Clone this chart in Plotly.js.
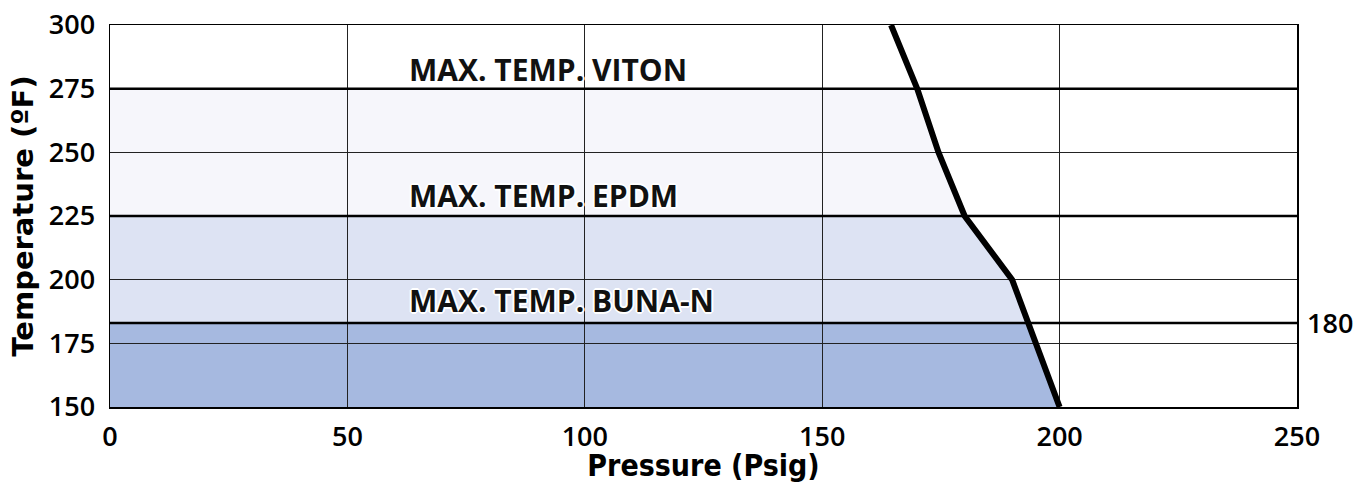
<!DOCTYPE html>
<html>
<head>
<meta charset="utf-8">
<script src="https://cdn.plot.ly/plotly-3.0.1.min.js"></script>
<style>html,body{margin:0;padding:0;background:#fff}#chart{width:1361px;height:483px}</style>
</head>
<body>
<div id="chart"></div>
<script>
// Pressure / temperature limit curve
const curvePressure = [164.5, 170, 174.5, 180, 190, 200];
const curveTemp     = [300,   275, 250,   225, 200, 150];

// Max-temperature limits for seal materials
const materials   = ["VITON", "EPDM", "BUNA-N"];
const maxTemps    = [275, 225, 183];
const labelTemps  = [282.5, 233, 192];
const labelX      = 62.5;
const limitLabel  = "180";

const xTicks = [0, 50, 100, 150, 200, 250];
const yTicks = [150, 175, 200, 225, 250, 275, 300];

const bandColors = ["#f6f6fb", "#dde3f3", "#a6b9e0"];

function curveXAt(t) {
  for (let i = 0; i < curveTemp.length - 1; i++) {
    const t0 = curveTemp[i], t1 = curveTemp[i + 1];
    if (t <= t0 && t >= t1) {
      const f = (t0 - t) / (t0 - t1);
      return curvePressure[i] + f * (curvePressure[i + 1] - curvePressure[i]);
    }
  }
  return curvePressure[curvePressure.length - 1];
}

const shapes = [];
// Band fills (drawn under the gridlines)
const bottom = yTicks[0];
for (let b = 0; b < maxTemps.length; b++) {
  const top = maxTemps[b];
  const low = b + 1 < maxTemps.length ? maxTemps[b + 1] : bottom;
  const pts = [[0, top], [curveXAt(top), top]];
  for (let i = 0; i < curveTemp.length; i++) {
    if (curveTemp[i] < top && curveTemp[i] > low) pts.push([curvePressure[i], curveTemp[i]]);
  }
  pts.push([curveXAt(low), low], [0, low]);
  const path = pts.map((p, k) => (k ? 'L' : 'M') + p[0] + ',' + p[1]).join(' ') + ' Z';
  shapes.push({type: 'path', xref: 'x', yref: 'y', path: path, fillcolor: bandColors[b],
    line: {width: 0}, layer: 'below'});
}
// Material limit lines
maxTemps.forEach(t => shapes.push({type: 'line', xref: 'x', yref: 'y', x0: xTicks[0], x1: xTicks[xTicks.length-1],
  y0: t, y1: t, line: {color: '#000', width: 2.5}, layer: 'between'}));

const traces = [{x: curvePressure, y: curveTemp, type: 'scatter', mode: 'lines',
  line: {color: '#000', width: 6}, showlegend: false, hoverinfo: 'skip'}];

const labelFont = {family: 'Open Sans', size: 30, weight: 700, color: '#111',
  shadow: '1px 1px 0 #fff, -1px -1px 0 #fff, 1px -1px 0 #fff, -1px 1px 0 #fff, 2px 0 0 #fff, -2px 0 0 #fff, 0 2px 0 #fff, 0 -2px 0 #fff'};

const tickFont = {family: 'Open Sans', size: 27, weight: 600, color: '#000'};

const annotations = materials.map((m, i) => ({
  x: labelX, y: labelTemps[i], xref: 'x', yref: 'y', xanchor: 'left', yanchor: 'middle',
  text: 'MAX. TEMP. ' + m, showarrow: false, font: labelFont
}));
annotations.push({x: 1, y: maxTemps[2], xref: 'paper', yref: 'y', xanchor: 'left', yanchor: 'middle',
  xshift: 8, text: limitLabel, showarrow: false, font: tickFont});

const layout = {
  width: 1361, height: 483,
  margin: {l: 110, r: 64, t: 25, b: 76},
  paper_bgcolor: '#fff', plot_bgcolor: '#fff',
  showlegend: false,
  xaxis: {range: [xTicks[0], xTicks[xTicks.length-1]], tickvals: xTicks, ticktext: xTicks.map(String),
    showgrid: true, gridcolor: '#222', gridwidth: 1.2, zeroline: false,
    showline: true, mirror: true, linecolor: '#000', linewidth: 1.5,
    ticks: '', ticklabelstandoff: 5, tickfont: tickFont,
    title: {text: 'Pressure (Psig)', standoff: 5,
      font: {family: 'DejaVu Sans Condensed', size: 30, weight: 800, color: '#000'}}},
  yaxis: {range: [yTicks[0], yTicks[yTicks.length-1]], tickvals: yTicks, ticktext: yTicks.map(String),
    showgrid: true, gridcolor: '#222', gridwidth: 1.2, zeroline: false,
    showline: true, mirror: true, linecolor: '#000', linewidth: 1.5,
    ticks: '', ticklabelstandoff: 8, tickfont: tickFont,
    title: {text: 'Temperature (ºF)', standoff: 6,
      font: {family: 'DejaVu Sans', size: 29, weight: 800, color: '#000'}}},
  shapes: shapes,
  annotations: annotations
};

Plotly.newPlot('chart', traces, layout, {staticPlot: true, displayModeBar: false});
</script>
</body>
</html>
